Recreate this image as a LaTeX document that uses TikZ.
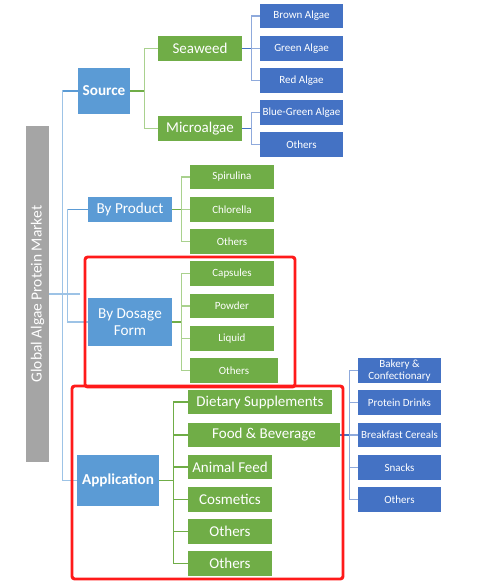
\documentclass[tikz,border=0pt]{standalone}
\usepackage{fontspec}
\setmainfont{Carlito}
\definecolor{lvAblue}{HTML}{5B9BD5}
\definecolor{lvBgreen}{HTML}{70AD47}
\definecolor{lvCblue}{HTML}{4472C4}
\definecolor{barGray}{HTML}{A5A5A5}
\definecolor{trunkLine}{HTML}{9DC3E6}
\definecolor{greenLine}{HTML}{A9D18E}
\definecolor{blueLine}{HTML}{8FAADC}
\definecolor{markRed}{HTML}{FF1A1A}
\tikzset{
  box/.style={inner sep=0pt, text=white, align=center},
  lvA/.style={box, fill=lvAblue, font={\fontsize{11.4}{12.75}\selectfont}},
  lvAbold/.style={lvA, font={\fontsize{11.4}{12.75}\selectfont\bfseries}},
  lvB/.style={box, fill=lvBgreen, font={\fontsize{11.25}{12.75}\selectfont}},
  lvBsmall/.style={box, fill=lvBgreen, font={\fontsize{8.25}{9}\selectfont}},
  lvC/.style={box, fill=lvCblue, font={\fontsize{8.25}{9}\selectfont}},
  tconn/.style={draw=trunkLine, line width=1.1pt},
  gconn/.style={draw=greenLine, line width=1.1pt},
  bconn/.style={draw=blueLine, line width=1.1pt},
  tstub/.style={draw=lvAblue, line width=1.1pt},
  gstub/.style={draw=lvBgreen, line width=1.1pt},
  bstub/.style={draw=lvCblue, line width=1.1pt},
  hilite/.style={draw=markRed, line width=2.2pt, rounded corners=2pt},
}
% box from its corners (in px): style, x1, y1, x2, y2, name, text
\newcommand\bx[7]{%
  \pgfmathsetmacro\bxw{(#4-#2)*0.75}%
  \pgfmathsetmacro\bxh{(#5-#3)*0.75}%
  \node[#1, minimum width=\bxw pt, minimum height=\bxh pt] (#6)
    at ({(#2+#4)/2},{(#3+#5)/2}) {#7};}
\begin{document}
\begin{tikzpicture}[x=0.75pt,y=-0.75pt]
\useasboundingbox (0,0) rectangle (478,588);

% root bar
\node[fill=barGray, text=white, inner sep=0pt, rotate=90,
      minimum width=252pt, minimum height=17.25pt,
      font={\fontsize{11.6}{13}\selectfont}] (root) at (37.5,294) {Global Algae Protein Market};

% second level
\bx{lvAbold}{78}{68}{130}{114}{src}{Source}
\bx{lvA}{88}{197}{172}{222}{prod}{By Product}
\bx{lvA}{88}{298}{172}{346}{dose}{By Dosage\\Form}
\bx{lvAbold}{77}{455}{159}{506}{app}{Application}

% source branch
\bx{lvB}{158}{36}{242}{61}{sea}{Seaweed}
\bx{lvB}{158}{116}{242}{141}{micro}{Microalgae}
\bx{lvC}{260}{4}{343}{28}{brown}{Brown Algae}
\bx{lvC}{260}{36}{343}{61}{greenalg}{Green Algae}
\bx{lvC}{260}{68}{343}{93}{redalg}{Red Algae}
\bx{lvC}{260}{100}{343}{125}{bluegreen}{Blue-Green Algae}
\bx{lvC}{260}{132}{343}{157}{microoth}{Others}

% product branch
\bx{lvBsmall}{190}{165}{274}{189}{spir}{Spirulina}
\bx{lvBsmall}{190}{197}{274}{222}{chlo}{Chlorella}
\bx{lvBsmall}{190}{229}{274}{254}{prodoth}{Others}

% dosage branch
\bx{lvBsmall}{190}{261}{274}{286}{caps}{Capsules}
\bx{lvBsmall}{190}{294}{274}{318}{powd}{Powder}
\bx{lvBsmall}{190}{326}{274}{351}{liq}{Liquid}
\bx{lvBsmall}{190}{358}{278}{383}{doseoth}{Others}

% application branch
\bx{lvB}{188}{390}{332}{414}{diet}{Dietary Supplements}
\bx{lvB}{188}{423}{340}{447}{food}{Food \& Beverage}
\bx{lvB}{188}{455}{272}{479}{feed}{Animal Feed}
\bx{lvB}{188}{487}{272}{512}{cosm}{Cosmetics}
\bx{lvB}{188}{519}{272}{544}{appothA}{Others}
\bx{lvB}{188}{551}{272}{576}{appothB}{Others}

% food & beverage branch
\bx{lvC}{358}{358}{441}{383}{bake}{Bakery \&\\Confectionary}
\bx{lvC}{358}{390}{441}{415}{drink}{Protein Drinks}
\bx{lvC}{358}{423}{441}{447}{cereal}{Breakfast Cereals}
\bx{lvC}{358}{455}{441}{480}{snack}{Snacks}
\bx{lvC}{358}{487}{441}{512}{foodoth}{Others}

% trunk connectors
\draw[tconn] (root.south) -- ++(30.5,0);
\draw[tconn] (src.west) -- ++(-15,0) |- (app.west);
\draw[tconn] (prod.west) -- ++(-20,0) |- (dose.west);
\draw[tstub] (src.west) -- ++(-15,0);
\draw[tstub] (prod.west) -- ++(-20,0);

% source children
\foreach \c in {sea,micro} \draw[gconn] (src.east) -- ++(14,0) |- (\c.west);
\draw[gstub] (src.east) -- ++(14,0);
\foreach \c in {brown,greenalg,redalg} \draw[bconn] (sea.east) -- ++(9,0) |- (\c.west);
\draw[bstub] (sea.east) -- ++(9,0);
\foreach \c in {bluegreen,microoth} \draw[bconn] (micro.east) -- ++(9,0) |- (\c.west);
\draw[bstub] (micro.east) -- ++(9,0);

% product and dosage children
\foreach \c in {spir,chlo,prodoth} \draw[gconn] (prod.east) -- ++(9,0) |- (\c.west);
\draw[gstub] (prod.east) -- ++(9,0);
\foreach \c in {caps,powd,liq,doseoth} \draw[gconn] (dose.east) -- ++(9,0) |- (\c.west);
\draw[gstub] (dose.east) -- ++(9,0);

% application children
\foreach \c in {diet,food,feed,cosm,appothA,appothB} \draw[gstub] (app.east) -- ++(14,0) |- (\c.west);
\foreach \c in {bake,drink,cereal,snack,foodoth} \draw[bconn] (food.east) -- ++(9,0) |- (\c.west);
\draw[bstub] (food.east) -- ++(9,0);

% highlight frames
\draw[hilite] (85,257) rectangle (295,387);
\draw[hilite] (72,386) rectangle (343,579);
\end{tikzpicture}
\end{document}
